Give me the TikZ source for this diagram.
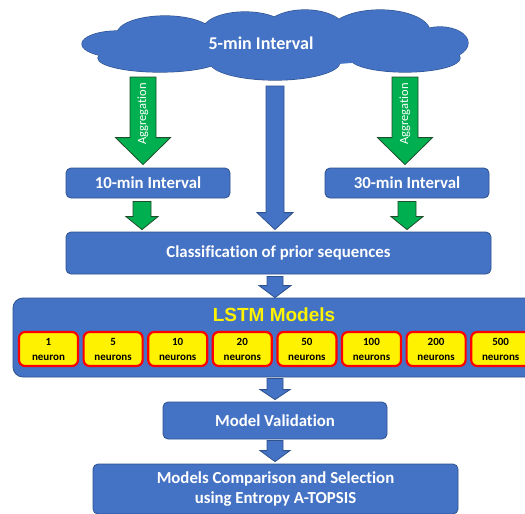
\documentclass[tikz,border=0pt]{standalone}
\usepackage{fontspec}
\setmainfont{Carlito}[Ligatures=NoCommon]
\newfontfamily\titlefont{Liberation Sans}
\usetikzlibrary{calc}

\definecolor{boxblue}{HTML}{4472C4}
\definecolor{edgeblue}{HTML}{2F528F}
\definecolor{agggreen}{HTML}{00B050}
\definecolor{edgegreen}{HTML}{1F4E2A}

% block arrow pointing down: style, from, to, shaft half width, head half width, head length
\newcommand\fatarrow[6]{%
  \path[#1] let \p1=(#2), \p2=(#3) in
    (\x1-#4pt,\y1) -- (\x1+#4pt,\y1) -- (\x1+#4pt,\y2+#6pt) -- (\x1+#5pt,\y2+#6pt)
    -- (\x1,\y2) -- (\x1-#5pt,\y2+#6pt) -- (\x1-#4pt,\y2+#6pt) -- cycle;}

% puffs of the cloud: centre x / centre y / x radius / y radius
\newcommand\cloudpuffs{118/44/36/13, 165/34/48/18, 245/30/42/18, 305/30/40/20,
  380/32/50/22, 440/43/28/16, 405/58/55/14, 275/62/65/18, 160/58/62/14}

\tikzset{
  blockbox/.style={fill=boxblue, draw=edgeblue, line width=0.8pt, rounded corners=5pt,
    text=white, font=\bfseries\fontsize{16.8}{20}\selectfont, align=center, inner sep=0pt},
  neuronbox/.style={fill=yellow, draw=red, line width=2.2pt, rounded corners=6pt,
    minimum width=59, minimum height=34, inner sep=0pt, align=center,
    font=\bfseries\fontsize{11}{15}\selectfont},
  greenarrow/.style={fill=agggreen, draw=edgegreen, line width=0.8pt},
  bluearrow/.style={fill=boxblue, draw=edgeblue, line width=0.8pt},
}

\begin{document}
\begin{tikzpicture}[x=1pt,y=-1pt]
\clip (0,0) rectangle (525,514);
\fill[white] (0,0) rectangle (525,514);

% raw data cloud: outlined puffs, then filled again to hide the inner edges
\foreach \cx/\cy/\rx/\ry in \cloudpuffs
  \draw[fill=boxblue, draw=edgeblue, line width=1.2pt] (\cx,\cy) ellipse ({\rx pt} and {\ry pt});
\foreach \cx/\cy/\rx/\ry in \cloudpuffs
  \fill[boxblue] (\cx,\cy) ellipse ({\rx pt} and {\ry pt});
\fill[boxblue] (272,46) ellipse (150pt and 20pt);
\node[text=white, font=\bfseries\fontsize{18}{21}\selectfont] (cloudtext) at (261,43) {5-min Interval};

% aggregated series
\node[blockbox, minimum width=164, minimum height=30] (ten) at (148,183) {10-min Interval};
\node[blockbox, minimum width=164, minimum height=30] (thirty) at (407,183) {30-min Interval};
\node[blockbox, minimum width=425, minimum height=42] (class) at (278.5,253) {Classification of prior sequences};

% models
\node[blockbox, rounded corners=10pt, minimum width=530, minimum height=79] (lstm) at (278,337.5) {};
\node[text=yellow, font=\titlefont\bfseries\fontsize{19}{22}\selectfont] (lstmtitle) at (274,315) {LSTM Models};
\foreach \n/\unit [count=\i from 0] in {1/neuron,5/neurons,10/neurons,20/neurons,50/neurons,100/neurons,200/neurons,500/neurons}
  \node[neuronbox] (n\i) at (48.5+64.6*\i,349) {\n\\\unit};

\node[blockbox, minimum width=224, minimum height=37] (valid) at (275,420.5) {Model Validation};
\node[blockbox, minimum width=365, minimum height=50] (select) at (275.5,489)
  {Models Comparison and Selection\\using Entropy A-TOPSIS};

% arrows
\coordinate (aggL) at (143,77);
\coordinate (aggR) at (405,77);
\fatarrow{greenarrow}{aggL}{$(aggL |- ten.north)+(0,-3)$}{13}{27.5}{27}
\fatarrow{greenarrow}{aggR}{$(aggR |- thirty.north)+(0,-3)$}{13}{27.5}{27}
\node[rotate=90, text=white, font=\fontsize{12.5}{14}\selectfont] (aggtextL) at (143,114) {Aggregation};
\node[rotate=90, text=white, font=\fontsize{12.5}{14}\selectfont] (aggtextR) at (405,114) {Aggregation};

\coordinate (direct) at (275,86);
\fatarrow{bluearrow}{direct}{$(direct |- class.north)+(0,-2)$}{9}{18}{17}
\fatarrow{greenarrow}{$(142,0 |- ten.south)+(0,3)$}{$(142,0 |- class.north)+(0,-2)$}{9}{16}{13}
\fatarrow{greenarrow}{$(407,0 |- thirty.south)+(0,3)$}{$(407,0 |- class.north)+(0,-2)$}{9}{16}{13}
\fatarrow{bluearrow}{$(class.south)+(-3.5,2)$}{$(class.south |- lstm.north)+(-3.5,0)$}{8}{16}{12}
\fatarrow{bluearrow}{$(lstm.south -| valid.north)+(0,1)$}{$(valid.north)+(0,-2)$}{8}{15}{10}
\fatarrow{bluearrow}{$(valid.south)+(0,1)$}{$(select.north)+(0,-2)$}{8}{15}{11}
\end{tikzpicture}
\end{document}
